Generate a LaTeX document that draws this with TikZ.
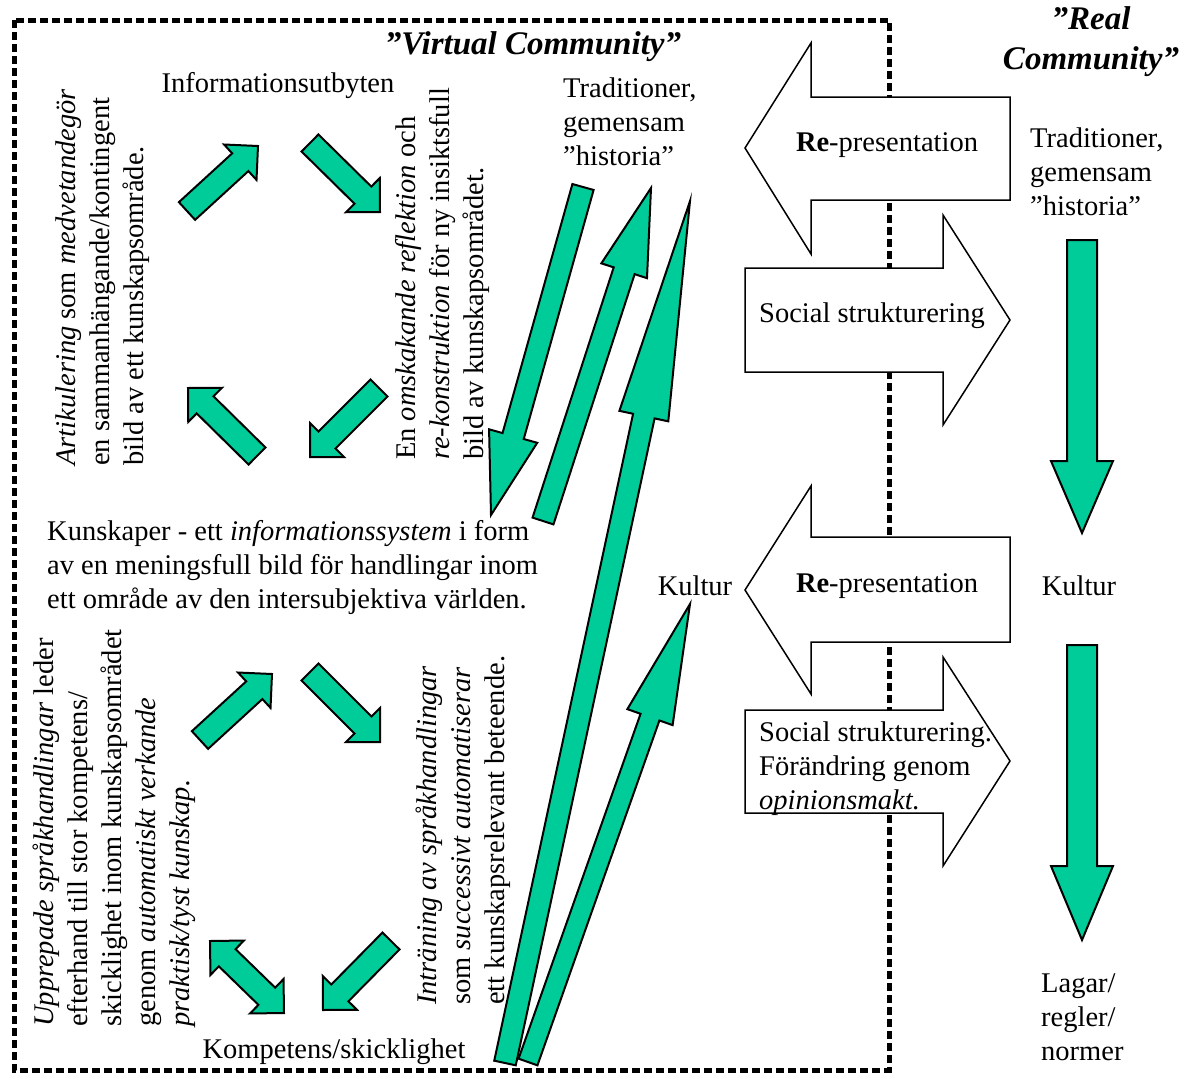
\documentclass[tikz,border=0pt]{standalone}
\usepackage{fontspec}
\setmainfont{Liberation Serif}
\usepackage{tikz}
\usetikzlibrary{calc}
\definecolor{arrowgreen}{RGB}{0,204,153}

% block arrow: tail, tip, shaft half width, head half width, head length
\newcommand{\flowarrow}[5]{%
  \coordinate (hb) at ($#2!#5!#1$);
  \draw[greenblock] ($#1!#3!90:#2$) -- ($(hb)!#3!90:#2$) -- ($(hb)!#4!90:#2$) -- #2
    -- ($(hb)!#4!-90:#2$) -- ($(hb)!#3!-90:#2$) -- ($#1!#3!-90:#2$) -- cycle;}

\begin{document}
\begin{tikzpicture}[x=1pt, y=-1pt,
    greenblock/.style = {fill=arrowgreen, draw=black, line width=2pt},
    whiteblock/.style = {fill=white, draw=black, line width=1.5pt},
    plain/.style = {inner sep=0pt, font=\fontsize{28.5}{34}\selectfont},
    sideways/.style = {plain, rotate=90, align=left, anchor=north west},
    heading/.style = {inner sep=0pt, align=center, font=\fontsize{33}{40}\selectfont\bfseries\itshape}]
    \useasboundingbox (0,0) rectangle (1184,1074);
    % Draw the virtual community frame
    \draw[line width=5pt, dash pattern=on 8pt off 4pt] (14,20) rectangle (889,1070);
    \node[heading] (virtual) at (533,47) {”Virtual Community”};
    \node[heading] (real) at (1091,42) {”Real\\Community”};

    % upper cycle
    \node[plain] (info) at (278,86) {Informationsutbyten};
    \node[sideways] (artik) at (56,466) {\textit{Artikulering} som \textit{medvetandegör}\\en sammanhängande/kontingent\\bild av ett kunskapsområde.};
    \node[sideways] (omsk) at (395,460) {En \textit{omskakande reflektion} och\\\textit{re-konstruktion} för ny insiktsfull\\bild av kunskapsområdet.};
    \flowarrow{(187,211)}{(258,146)}{12pt}{24pt}{24pt}
    \flowarrow{(310,143)}{(380,212)}{12pt}{24pt}{24pt}
    \flowarrow{(379,388)}{(310,457)}{12pt}{24pt}{24pt}
    \flowarrow{(257,456)}{(188,388)}{12pt}{24pt}{24pt}

    \node[plain, anchor=north west, align=left] (kunsk) at (47,520) {Kunskaper - ett \textit{informationssystem} i form\\av en meningsfull bild för handlingar inom\\ett område av den intersubjektiva världen.};

    % lower cycle
    \node[sideways] (uppr) at (33,1027) {\textit{Upprepade språkhandlingar} leder\\efterhand till stor kompetens/\\skicklighet inom kunskapsområdet\\genom \textit{automatiskt verkande}\\\textit{praktisk/tyst kunskap.}};
    \node[sideways] (intr) at (416,1005) {\textit{Inträning av språkhandlingar}\\som \textit{successivt automatiserar}\\ett kunskapsrelevant beteende.};
    \node[plain] (komp) at (334,1052) {Kompetens/skicklighet};
    \flowarrow{(200,740)}{(272,674)}{12pt}{24pt}{24pt}
    \flowarrow{(310,672)}{(380,742)}{12pt}{24pt}{24pt}
    \flowarrow{(391,941)}{(323,1010)}{12pt}{24pt}{24pt}
    \coordinate (da) at (210,941);
    \coordinate (db) at (284,1013);
    \coordinate (ha) at ($(da)!24pt!(db)$);
    \coordinate (hb) at ($(db)!24pt!(da)$);
    \draw[greenblock] (da) -- ($(ha)!24pt!90:(db)$) -- ($(ha)!12pt!90:(db)$) -- ($(hb)!12pt!90:(db)$)
      -- ($(hb)!24pt!90:(db)$) -- (db) -- ($(hb)!24pt!-90:(db)$) -- ($(hb)!12pt!-90:(db)$)
      -- ($(ha)!12pt!-90:(db)$) -- ($(ha)!24pt!-90:(db)$) -- cycle;

    % long arrows between the two levels
    \node[plain, anchor=north west, align=left] (trad) at (563,78) {Traditioner,\\gemensam\\”historia”};
    \node[plain] (kult) at (695,586) {Kultur};
    \flowarrow{(583,187)}{(491,515)}{11pt}{25pt}{82pt}
    \flowarrow{(543,521)}{(651,188)}{11pt}{24pt}{87pt}
    \flowarrow{(505,1063)}{(690,201)}{11pt}{25pt}{220pt}
    \flowarrow{(528,1062)}{(690,604)}{10pt}{24pt}{120pt}

    % re-presentation and social structuring
    \draw[whiteblock] (745,148) -- ++(66,-105) -- ++(0,54) -- ++(199,0) -- ++(0,103) -- ++(-199,0) -- ++(0,54) -- cycle;
    \node[plain] (rep1) at (887,145) {\textbf{Re}-presentation};
    \draw[whiteblock] (1010,320) -- ++(-67,-105) -- ++(0,53) -- ++(-198,0) -- ++(0,104) -- ++(198,0) -- ++(0,53) -- cycle;
    \node[plain] (soc1) at (872,316) {Social strukturering};
    \draw[whiteblock] (745,590) -- ++(66,-104) -- ++(0,51) -- ++(199,0) -- ++(0,105) -- ++(-199,0) -- ++(0,52) -- cycle;
    \node[plain] (rep2) at (887,586) {\textbf{Re}-presentation};
    \draw[whiteblock] (1010,761) -- ++(-67,-104) -- ++(0,53) -- ++(-198,0) -- ++(0,103) -- ++(198,0) -- ++(0,53) -- cycle;
    \node[plain, anchor=north west, align=left] (soc2) at (759,722) {Social strukturering.\\Förändring genom\\\textit{opinionsmakt.}};

    % real community
    \node[plain, anchor=north west, align=left] (tradr) at (1030,128) {Traditioner,\\gemensam\\”historia”};
    \node[plain] (kultr) at (1079,586) {Kultur};
    \node[plain, anchor=north west, align=left] (lagar) at (1041,974) {Lagar/\\regler/\\normer};
    \flowarrow{(1082,240)}{(1082,533)}{15pt}{31pt}{72pt}
    \flowarrow{(1082,645)}{(1082,940)}{15pt}{31pt}{74pt}
\end{tikzpicture}
\end{document}
